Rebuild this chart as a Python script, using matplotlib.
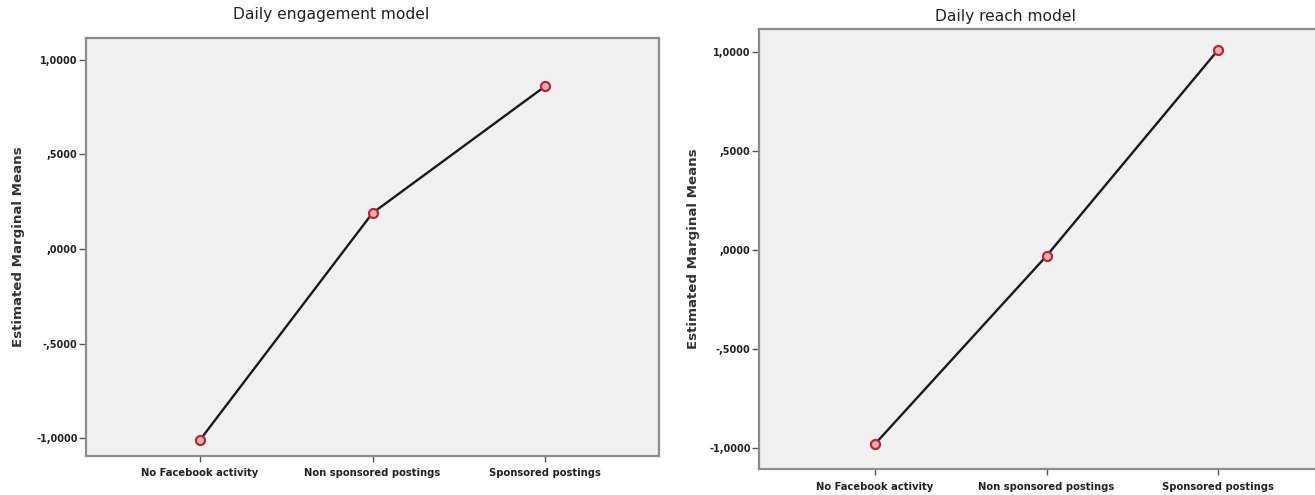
import numpy as np
import matplotlib
matplotlib.use("Agg")
import matplotlib.pyplot as plt

# data
categories = ["No Facebook activity", "Non sponsored postings", "Sponsored postings"]
engagement_means = [-1.01, 0.19, 0.86]
reach_means = [-0.98, -0.03, 1.01]
ytick_values = [1.0, 0.5, 0.0, -0.5, -1.0]
ytick_labels = ["1,0000", ",5000", ",0000", "-,5000", "-1,0000"]

W, H = 1315, 495
fig = plt.figure(figsize=(W / 100, H / 100), dpi=100)

def px_axes(x0, y0, x1, y1):
    # pixel box (top-left origin) -> figure fraction
    return [x0 / W, 1 - y1 / H, (x1 - x0) / W, (y1 - y0) / H]

def profile(ax, values, xlim, ylim):
    x = np.arange(len(categories))
    ax.plot(x, values, color="#1a1a1a", lw=1.7, marker="o", ms=6.5,
            mfc="#e8b0b6", mec="#b52a3a", mew=1.6, zorder=3)
    ax.set_facecolor("#f0f0f0")
    ax.set_xlim(*xlim)
    ax.set_ylim(*ylim)
    ax.set_xticks(x)
    ax.set_xticklabels(categories, fontsize=7.2, fontweight="bold", color="#222222")
    ax.set_yticks(ytick_values)
    ax.set_yticklabels(ytick_labels, fontsize=7, fontweight="bold", color="#222222")
    ax.tick_params(axis="y", length=5, width=1, color="#555555", pad=1)
    ax.tick_params(axis="x", length=4, width=1, color="#555555", pad=5)
    for s in ax.spines.values():
        s.set_color("#8c8c8c")
        s.set_linewidth(1.6)

# left: daily engagement
ax1 = fig.add_axes(px_axes(86, 38, 659, 456))
profile(ax1, engagement_means, (-0.661, 2.661), (-1.095, 1.116))

# right: daily reach (frame runs past the right edge of the image)
ax2 = fig.add_axes(px_axes(759, 29, 1334, 469))
profile(ax2, reach_means, (-0.676, 2.676), (-1.106, 1.116))

fig.text(331 / W, 1 - 15 / H, "Daily engagement model", ha="center", va="center",
         fontsize=11.2, color="#222222")
fig.text(1005 / W, 1 - 17 / H, "Daily reach model", ha="center", va="center",
         fontsize=11.2, color="#222222")

for xc, yc in [(19, 247), (693, 249)]:
    fig.text(xc / W, 1 - yc / H, "Estimated Marginal Means", rotation=90,
             ha="center", va="center", fontsize=9.6, fontweight="bold", color="#333333")

fig.savefig("out.png", dpi=100)
